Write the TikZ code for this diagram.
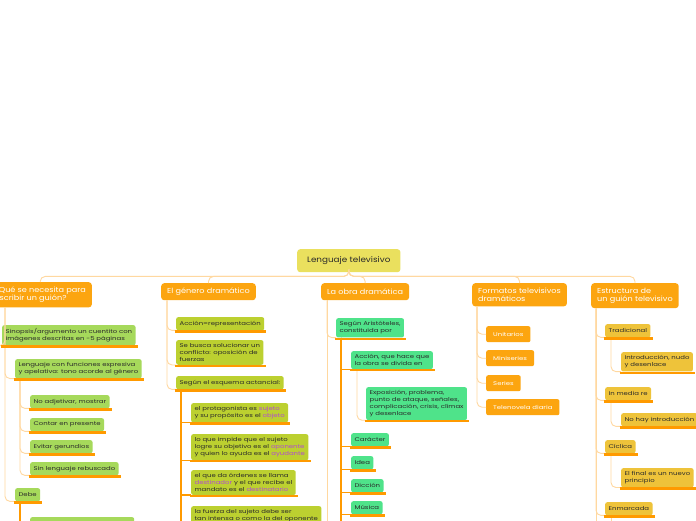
\documentclass[tikz,border=0pt]{standalone}
\usepackage{fontspec}
\setmainfont{Poppins}
\newfontfamily\leaffont{Poppins}[FakeStretch=1.28]
\newfontfamily\topicfont{Poppins}[FakeStretch=1.13]
\usepackage{tikz}
\usetikzlibrary{positioning,calc}
\definecolor{rootfill}{HTML}{EAE05E}
\definecolor{topicfill}{HTML}{FCA510}
\definecolor{leafa}{HTML}{A6D95B}
\definecolor{leafb}{HTML}{BCD030}
\definecolor{leafc}{HTML}{4FE38A}
\definecolor{leafd}{HTML}{EEC33A}
\definecolor{connlight}{HTML}{FFD8A0}
\definecolor{uorange}{HTML}{FF9A00}
\definecolor{actant}{HTML}{B04CD0}
\definecolor{ink}{HTML}{2A2A2A}
\newcommand{\act}[1]{\textcolor{actant}{#1}}

\begin{document}
\begin{tikzpicture}[x=1pt, y=-1pt,
      root/.style={rectangle, rounded corners=3pt, fill=rootfill, text=ink,
      font=\topicfont\fontsize{7.8}{9}\selectfont, inner xsep=10pt, minimum height=23pt,
      anchor=north west},
      topic/.style={rectangle, rounded corners=3pt, fill=topicfill, text=white,
      font=\topicfont\fontsize{7.2}{8.6}\selectfont, align=left, inner xsep=6pt,
      inner ysep=4.5pt, minimum height=17pt, anchor=north west},
      leaf/.style={rectangle, rounded corners=2pt, text=ink, align=left,
      font=\leaffont\fontsize{5.4}{6.8}\selectfont, inner xsep=3.4pt, inner ysep=3.4pt,
      minimum height=13pt, anchor=north west},
      lfa/.style={leaf, fill=leafa},
      lfb/.style={leaf, fill=leafb},
      lfc/.style={leaf, fill=leafc},
      lfd/.style={leaf, fill=leafd},
      fmt/.style={leaf, fill=topicfill, text=white, inner xsep=7pt,
      minimum height=16pt},
      conn/.style={draw=connlight, line width=0.9pt, rounded corners=5pt},
      trunk/.style={draw=uorange, line width=1.3pt},
      uline/.style={draw=uorange, line width=2.3pt},
    ]
    \clip (0,0) rectangle (696,520);
    \fill[white] (0,0) rectangle (696,520);

    % central topic and main branches
    \node[root] (root) at (297,249) {Lenguaje televisivo};
    \node[topic, anchor=north east] (m1) at (92,282) {¿Qué se necesita para\\escribir un guión?};
    \node[topic] (m2) at (161,283) {El género dramático};
    \node[topic] (m3) at (321,283) {La obra dramática};
    \node[topic] (m4) at (472,283) {Formatos televisivos\\dramáticos};
    \node[topic] (m5) at (591,283) {Estructura de\\un guión televisivo};
    \foreach \m in {m1,m2,m3,m4,m5}
      \draw[conn] (root.south) -- ++(0,4) -| (\m.north);

    % ¿Qué se necesita?
    \node[lfa] (a1) at (2,325) {Sinopsis/argumento un cuentito con\\imágenes descritas en -5 páginas};
    \node[lfa] (a2) at (15,359) {Lenguaje con funciones expresiva\\y apelativa: tono acorde al género};
    \node[lfa] (a3) at (30,395) {No adjetivar, mostrar};
    \node[lfa] (a4) at (30,418) {Contar en presente};
    \node[lfa] (a5) at (30,440) {Evitar gerundios};
    \node[lfa] (a6) at (30,462) {Sin lenguaje rebuscado};
    \node[lfa] (a7) at (15,488) {Debe};
    \node[lfa, minimum width=104pt, minimum height=20pt] (a8) at (30,517) {};
    \draw[conn] ([xshift=-87pt]m1.south east) |- (a1.south west);
    \draw[conn] ([xshift=-87pt]m1.south east) |- (a2.south west);
    \draw[conn] ([xshift=-87pt]m1.south east) |- (a7.south west);
    \foreach \c in {a3,a4,a5,a6}
      \draw[conn] ([xshift=5pt]a2.south west) |- (\c.south west);
    \draw[trunk] ([xshift=5pt]a7.south west) |- (a8.south west);

    % El género dramático
    \node[lfb] (b1) at (176,317) {Acción=representación};
    \node[lfb] (b2) at (176,340) {Se busca solucionar un\\conflicto: oposición de\\fuerzas};
    \node[lfb] (b3) at (176,376) {Según el esquema actancial:};
    \node[lfb] (b4) at (191,403) {el protagonista es \act{sujeto}\\y su propósito es el \act{objeto}};
    \node[lfb] (b5) at (191,434) {lo que impide que el sujeto\\logre su objetivo es el \act{oponente}\\y quien lo ayuda es el \act{ayudante}};
    \node[lfb] (b6) at (191,470) {el que da órdenes se llama\\\act{destinador} y el que recibe el\\mandato es el \act{destinatario}};
    \node[lfb] (b7) at (191,506) {la fuerza del sujeto debe ser\\tan intensa o como la del oponente\\};
    \foreach \c in {b1,b2,b3}
      \draw[conn] ([xshift=6pt]m2.south west) |- (\c.south west);
    \foreach \c in {b4,b5,b6,b7}
      \draw[trunk] ([xshift=5pt]b3.south west) |- (\c.south west);

    % La obra dramática
    \node[lfc] (c1) at (336,318) {Según Aristóteles,\\constituida por};
    \node[lfc] (c2) at (351,351) {Acción, que hace que\\la obra se divida en};
    \node[lfc] (c3) at (366,387) {Exposición, problema,\\punto de ataque, señales,\\complicación, crisis, clímax\\y desenlace};
    \node[lfc] (c4) at (351,433) {Carácter};
    \node[lfc] (c5) at (351,456) {Idea};
    \node[lfc] (c6) at (351,479) {Dicción};
    \node[lfc] (c7) at (351,501) {Música};
    \coordinate (cut3) at (327,524);
    \coordinate (cut3b) at (341,524);
    \draw[conn] ([xshift=6pt]m3.south west) |- (c1.south west);
    \draw[conn] ([xshift=6pt]m3.south west) -- (cut3);
    \foreach \c in {c2,c4,c5,c6,c7}
      \draw[trunk] ([xshift=5pt]c1.south west) |- (\c.south west);
    \draw[trunk] ([xshift=5pt]c1.south west) -- (cut3b);
    \draw[conn] ([xshift=6pt]c2.south west) |- (c3.south west);

    % Formatos televisivos
    \node[fmt] (d1) at (486,326) {Unitarios};
    \node[fmt] (d2) at (486,350) {Miniseries};
    \node[fmt] (d3) at (486,375) {Series};
    \node[fmt] (d4) at (486,399) {Telenovela diaria};
    \foreach \c in {d1,d2,d3,d4}
      \draw[conn] ([xshift=5pt]m4.south west) |- (\c.west);

    % Estructura de un guión
    \node[lfd] (e1) at (605,324) {Tradicional};
    \node[lfd] (e2) at (621,352) {Introducción, nudo\\y desenlace};
    \node[lfd] (e3) at (605,387) {In media re};
    \node[lfd] (e4) at (621,413) {No hay introducción};
    \node[lfd] (e5) at (605,440) {Cíclica};
    \node[lfd] (e6) at (621,468) {El final es un nuevo\\principio};
    \node[lfd] (e7) at (605,502) {Enmarcada};
    \coordinate (cut5) at (596,524);
    \coordinate (cut5b) at (611,524);
    \foreach \c in {e1,e3,e5,e7}
      \draw[conn] ([xshift=5pt]m5.south west) |- (\c.south west);
    \draw[conn] ([xshift=5pt]m5.south west) -- (cut5);
    \draw[conn] ([xshift=6pt]e1.south west) |- (e2.south west);
    \draw[conn] ([xshift=6pt]e3.south west) |- (e4.south west);
    \draw[conn] ([xshift=6pt]e5.south west) |- (e6.south west);
    \draw[conn] ([xshift=6pt]e7.south west) -- (cut5b);

    % underlines
    \foreach \c in {a1,a2,a3,a4,a5,a6,a7,b1,b2,b3,b4,b5,b6,c1,c2,c3,c4,c5,c6,c7,e1,e2,e3,e4,e5,e6,e7}
      \draw[uline] ([xshift=-1.5pt,yshift=-1pt]\c.south west) -- ([xshift=2pt,yshift=-1pt]\c.south east);
  \end{tikzpicture}
\end{document}
